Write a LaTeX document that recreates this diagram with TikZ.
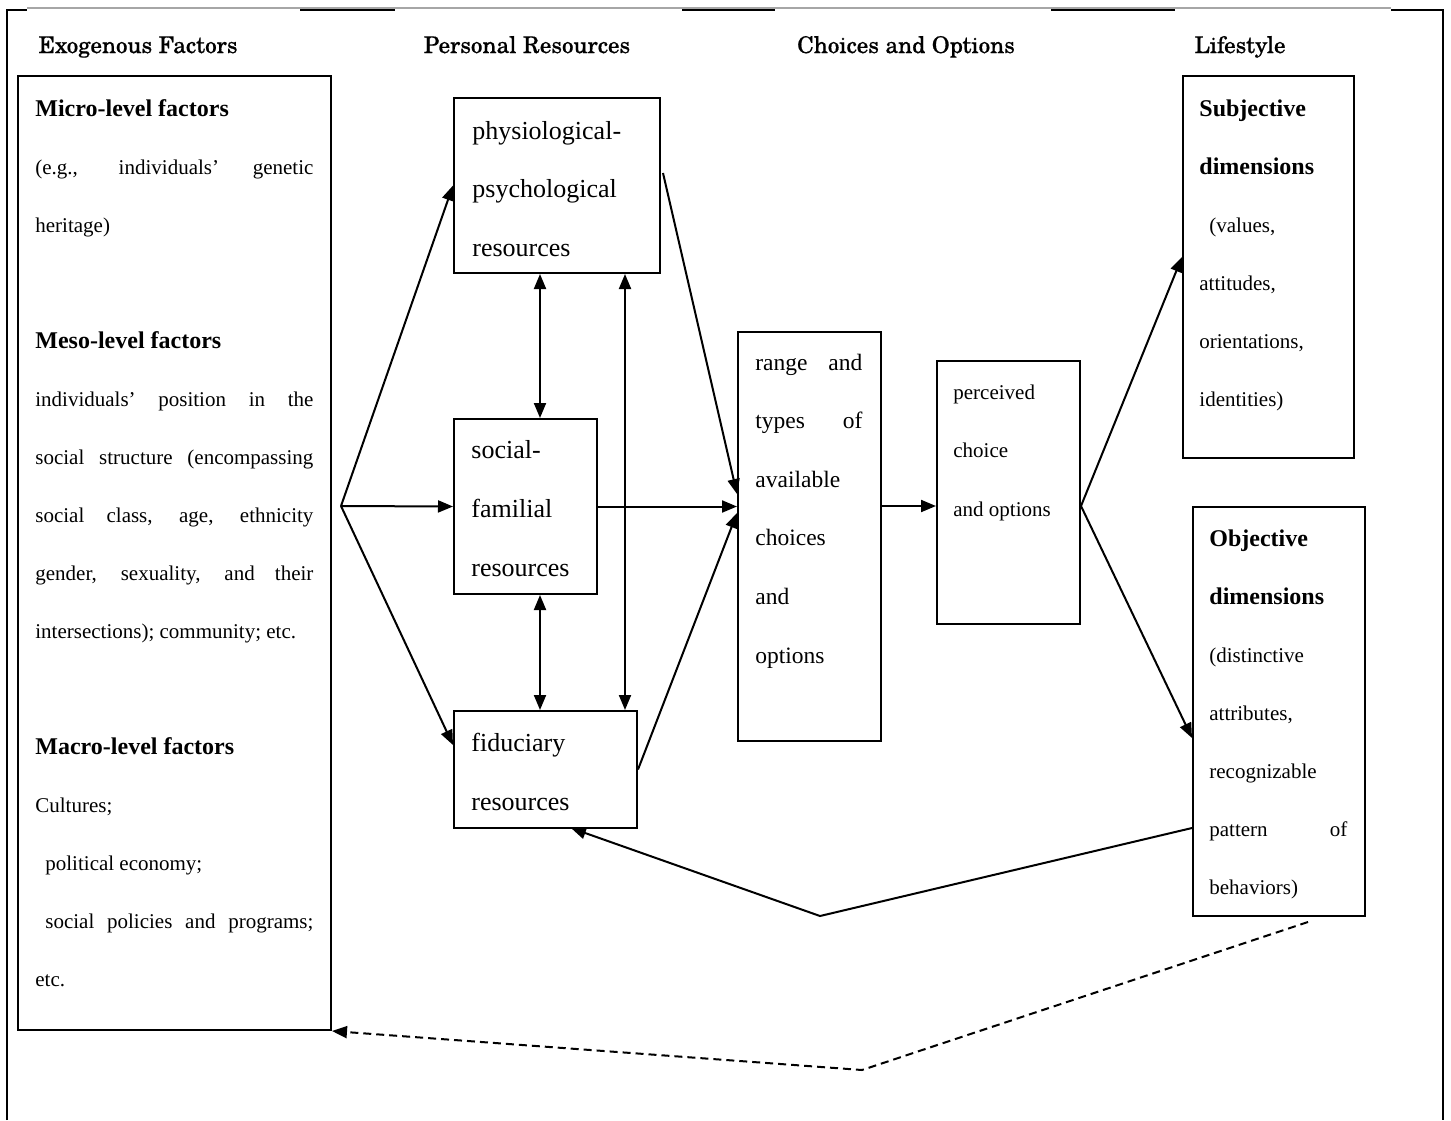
\documentclass[tikz,border=0pt]{standalone}
\usepackage{fontspec}
\setmainfont{Liberation Serif}
\newfontfamily\hdrfont[FakeBold=0.6]{TeX Gyre Schola}
\usetikzlibrary{arrows.meta}

\begin{document}
\begin{tikzpicture}[x=0.5pt,y=-0.5pt,
  box/.style={draw, line width=1pt, inner sep=0pt, anchor=north west},
  con/.style={line width=1pt},
  arr/.style={con, -{Triangle[length=7.5pt,width=6pt]}},
  darr/.style={con, {Triangle[length=7.5pt,width=6pt]}-{Triangle[length=7.5pt,width=6pt]}},
  dasharr/.style={arr, dash pattern=on 4pt off 2.5pt},
  hdr/.style={font=\hdrfont\fontsize{11.5pt}{14pt}\selectfont, inner sep=0pt, anchor=base},
  txt/.style={inner sep=0pt, anchor=base west, align=left},
]
\useasboundingbox (0,0) rectangle (1451,1120);
\newcommand\hb[1]{{\fontsize{12pt}{29pt}\selectfont\bfseries #1}}

% outer frame
\draw[gray!70, line width=0.6pt] (27,8) -- (1391,8);
\draw[line width=1.1pt] (7,1120) -- (7,10) -- (27,10);
\draw[line width=1.1pt] (300,10) -- (395,10);
\draw[line width=1.1pt] (682,10) -- (775,10);
\draw[line width=1.1pt] (1051,10) -- (1175,10);
\draw[line width=1.1pt] (1391,10) -- (1443,10) -- (1443,1120);

% column headings
\node[hdr] (h1) at (138,53) {Exogenous Factors};
\node[hdr] (h2) at (527,53) {Personal Resources};
\node[hdr] (h3) at (906,53) {Choices and Options};
\node[hdr] (h4) at (1240,53) {Lifestyle};

% boxes
\node[box, minimum width=156.5pt, minimum height=477pt] (exo) at (17,75) {};
\node[box, minimum width=103pt, minimum height=87.5pt] (phys) at (453,97) {};
\node[box, minimum width=71.5pt, minimum height=87.5pt] (social) at (453,418) {};
\node[box, minimum width=91.5pt, minimum height=58.5pt] (fid) at (453,710) {};
\node[box, minimum width=71.5pt, minimum height=204.5pt] (range) at (737,331) {};
\node[box, minimum width=71.5pt, minimum height=131.5pt] (perc) at (936,360) {};
\node[box, minimum width=85.5pt, minimum height=191pt] (subj) at (1182,75) {};
\node[box, minimum width=86pt, minimum height=204.5pt] (obj) at (1192,506) {};

% box texts
\node[txt] (exotxt) at (35,116) {\parbox[t]{139pt}{\fontsize{10.5pt}{29pt}\selectfont
\hb{Micro-level factors}\par
(e.g., individuals’ genetic\linebreak heritage)\par
\mbox{}\par
\hb{Meso-level factors}\par
individuals’ position in the\linebreak social structure (encompassing\linebreak social class, age, ethnicity\linebreak gender, sexuality, and their\linebreak intersections); community; etc.\par
\mbox{}\par
\hb{Macro-level factors}\par
Cultures;\par
\hspace*{5pt}political economy;\par
\hspace*{5pt}social policies and programs;\linebreak etc.}};

\node[txt] (phystxt) at (472,139) {\parbox[t]{90pt}{\fontsize{13pt}{29.3pt}\selectfont
physiological-\\psychological\\resources}};
\node[txt] (socialtxt) at (471,458) {\parbox[t]{62pt}{\fontsize{13pt}{29.5pt}\selectfont
social-\\familial\\resources}};
\node[txt] (fidtxt) at (471,751) {\parbox[t]{80pt}{\fontsize{13pt}{29.5pt}\selectfont
fiduciary\\resources}};
\node[txt] (rangetxt) at (755,370) {\parbox[t]{53.5pt}{\fontsize{11.75pt}{29.3pt}\selectfont
range and\linebreak types of\linebreak available\\choices\\and\\options}};
\node[txt] (perctxt) at (953,399) {\parbox[t]{62pt}{\fontsize{10.5pt}{29.3pt}\selectfont
perceived\\choice\\and options}};
\node[txt] (subjtxt) at (1199,116) {\parbox[t]{72pt}{\fontsize{10.5pt}{29pt}\selectfont
\hb{Subjective}\\\hb{dimensions}\\\hspace*{5pt}(values,\\attitudes,\\orientations,\\identities)}};
\node[txt] (objtxt) at (1209,546) {\parbox[t]{69pt}{\fontsize{10.5pt}{29pt}\selectfont
\hb{Objective}\\\hb{dimensions}\\(distinctive\\attributes,\\recognizable\\pattern of\linebreak behaviors)}};

% connector points
\coordinate (J) at (341,506);
\coordinate (fidin) at (453,745);
\coordinate (a1) at (540,0);
\coordinate (a2) at (625,0);
\coordinate (pout) at (663,173);
\coordinate (rin1) at (737,494);
\coordinate (rin3) at (737,513);
\coordinate (sin) at (1182,257);
\coordinate (oin) at (1192,738);
\coordinate (oout) at (1192,828);
\coordinate (k1) at (820,916);
\coordinate (fb) at (571,828);
\coordinate (d0) at (1308,922);
\coordinate (d1) at (862,1070);

% exogenous factors to personal resources
\draw[arr] (J) -- (phys.west);
\draw[arr] (J) -- (social.west);
\draw[arr] (J) -- (fidin);

% links among personal resources
\draw[darr] (a1 |- phys.south) -- (a1 |- social.north);
\draw[darr] (a1 |- social.south) -- (a1 |- fid.north);
\draw[darr] (a2 |- phys.south) -- (a2 |- fid.north);

% resources to choices
\draw[arr] (pout) -- (rin1);
\draw[arr] (social.east) -- (social.east -| range.west);
\draw[arr] (fid.east) -- (rin3);
\draw[arr] (range.east |- J) -- (perc.west |- J);

% choices to lifestyle
\draw[arr] (perc.east |- J) -- (sin);
\draw[arr] (perc.east |- J) -- (oin);

% feedback loops
\draw[arr] (oout) -- (k1) -- (fb);
\draw[dasharr] (d0) -- (d1) -- (exo.south east);
\end{tikzpicture}
\end{document}
